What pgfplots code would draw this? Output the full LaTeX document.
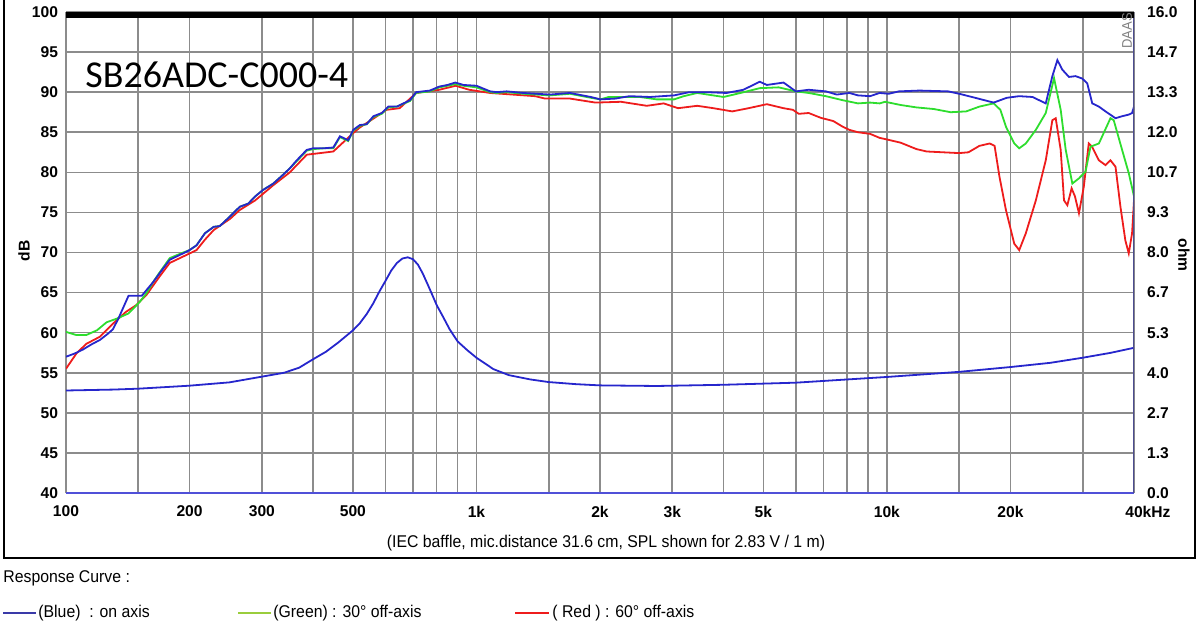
\documentclass[border=0pt]{standalone}
\usepackage{fontspec}
\setmainfont{Liberation Sans}
\newfontfamily\narrowfont[FakeStretch=0.93]{Liberation Sans}
\newfontfamily\titlefont{Carlito}
\usepackage{pgfplots}
\pgfplotsset{compat=1.18}
\definecolor{cblue}{HTML}{2626CC}
\definecolor{cgreen}{HTML}{2EDD2E}
\definecolor{cred}{HTML}{EE1C1C}
\definecolor{lgreen}{HTML}{9ACD3C}
\definecolor{lblue}{HTML}{3A3AA8}
\definecolor{gridc}{HTML}{8C8C8C}
\definecolor{rspine}{HTML}{4C4C90}
\definecolor{bspine}{HTML}{5050D8}

\pgfplotstableread{
f db
100 57.0
105 57.4
110 57.9
115 58.5
121 59.1
126 59.8
130 60.4
134 61.7
142 64.6
148 64.6
153 64.6
157 65.3
163 66.3
169 67.4
179 69.1
193 69.9
200 70.3
208 70.9
218 72.4
229 73.2
237 73.3
251 74.5
265 75.7
278 76.1
289 77.0
302 77.8
320 78.6
338 79.7
351 80.5
365 81.5
386 82.8
400 83.0
425 83.0
448 83.1
465 84.5
487 84.0
501 85.3
520 85.9
540 86.0
561 87.0
588 87.4
610 88.2
640 88.2
689 89.0
713 90.0
770 90.2
812 90.7
850 90.9
888 91.2
930 90.9
1000 90.8
1080 90.1
1120 90.0
1185 90.1
1300 89.9
1510 89.7
1690 89.9
1900 89.4
2005 89.1
2180 89.2
2360 89.5
2650 89.4
3030 89.6
3300 90.0
3630 90.0
4070 89.9
4470 90.3
4900 91.3
5100 90.9
5600 91.2
6000 90.1
6450 90.3
7100 90.1
7550 89.7
8100 89.9
8500 89.6
9100 89.5
9600 89.9
10100 89.8
10700 90.1
12000 90.2
14100 90.1
15000 89.8
16400 89.3
18200 88.7
19600 89.3
21000 89.5
22630 89.4
24380 88.6
25300 92.0
26020 94.0
26760 92.8
27770 91.9
28820 92.0
29910 91.7
30770 91.1
31650 88.6
32850 88.2
34090 87.6
36060 86.75
37420 87.0
38840 87.2
39570 87.4
40000 88.2
}\onaxis

\pgfplotstableread{
f db
100 60.1
106 59.7
112 59.7
119 60.3
125.6 61.3
133 61.75
142 62.4
151 63.8
157 64.9
163 66.3
169 67.5
179 69.3
193 70.0
200 70.3
208 70.9
218 72.4
229 73.2
237 73.3
251 74.5
265 75.7
278 76.1
289 77.0
302 77.8
320 78.6
338 79.7
351 80.5
365 81.4
386 82.7
400 82.9
425 83.0
448 83.0
465 84.4
487 83.9
501 85.2
520 85.8
540 86.0
561 86.9
588 87.3
610 88.1
640 88.2
689 88.9
713 89.9
770 90.1
812 90.6
850 90.8
888 91.0
930 90.8
1000 90.6
1080 90.0
1120 89.9
1185 90.0
1300 89.8
1510 89.6
1690 89.8
1900 89.3
2005 89.1
2100 89.4
2500 89.4
2750 89.1
3030 89.1
3200 89.5
3450 89.9
4000 89.4
4400 89.9
4900 90.5
5450 90.6
6000 90.1
6450 89.9
7100 89.5
7800 89.0
8500 88.6
9100 88.7
9600 88.6
9900 88.8
10800 88.4
11800 88.1
13000 87.9
14300 87.5
15600 87.6
16800 88.2
18200 88.6
18900 87.8
19500 85.7
20430 83.6
21010 83.0
21800 83.6
23060 85.3
24380 87.4
25540 91.75
26510 87.8
27270 82.8
28300 78.6
29370 79.25
30480 80.1
31340 83.2
32850 83.6
35050 86.75
35700 86.5
37420 82.8
38840 79.9
40000 77.0
}\offthirty

\pgfplotstableread{
f db
100 55.5
106 57.4
112 58.6
121 59.5
130 61.1
140 62.6
148 63.4
157 64.7
169 67.0
179 68.7
193 69.5
208 70.3
218 71.6
229 72.8
251 74.2
265 75.3
289 76.5
320 78.4
351 80.0
386 82.2
448 82.6
501 84.9
520 85.6
561 86.7
604 87.8
650 88.0
713 89.9
812 90.3
890 90.8
960 90.3
1080 89.9
1390 89.5
1470 89.2
1690 89.2
1950 88.7
2250 88.8
2600 88.3
2860 88.6
3100 88.0
3450 88.3
3780 88.0
4200 87.6
4600 88.0
5100 88.5
5600 88.0
5900 87.8
6100 87.3
6450 87.4
6900 86.8
7400 86.4
7800 85.7
8100 85.3
8500 85.0
9100 84.8
9600 84.3
10000 84.1
10800 83.7
11800 82.9
12500 82.6
13700 82.5
15000 82.4
15800 82.5
16800 83.3
17800 83.6
18300 83.3
18800 79.5
19500 75.3
20430 71.1
21010 70.3
21800 72.4
23060 76.5
24380 81.5
25300 86.5
25780 86.75
26510 82.8
27010 76.5
27520 75.9
28190 78.0
28720 77.0
29370 74.9
30180 78.2
31030 83.6
31600 83.2
32850 81.5
34090 80.9
35050 81.5
36060 80.7
37070 75.7
38110 71.5
38840 69.9
39570 72.4
40000 76.5
}\offsixty

\pgfplotstableread{
f z
100 3.41
130 3.44
150 3.47
200 3.57
250 3.68
300 3.87
340 4.00
370 4.17
400 4.45
430 4.70
460 5.00
500 5.41
520 5.65
540 5.95
560 6.30
580 6.70
600 7.05
620 7.40
640 7.65
660 7.80
680 7.84
700 7.78
720 7.60
740 7.30
760 6.95
780 6.60
800 6.25
830 5.85
860 5.45
900 5.04
950 4.75
1000 4.50
1100 4.12
1200 3.92
1350 3.78
1500 3.69
1750 3.62
2000 3.58
2750 3.56
4000 3.60
6000 3.67
10000 3.86
15000 4.03
20000 4.19
25000 4.33
30000 4.50
35000 4.66
40000 4.83
}\imped

\begin{document}
\begin{tikzpicture}
\useasboundingbox (0,0) rectangle (600pt,311.5pt);
% outer frame
\draw[line width=1pt,black] (1.8pt,311.5pt) -- (1.8pt,32.5pt) -- (597.5pt,32.5pt) -- (597.5pt,311.5pt);

\begin{axis}[
  at={(33pt,65pt)}, anchor=south west,
  width=534pt, height=240.5pt, scale only axis,
  xmode=log, xmin=100, xmax=40000, ymin=40, ymax=100,
  xtick={100,200,300,500,1000,2000,3000,5000,10000,20000,40000},
  xticklabels={100,200,300,500,1k,2k,3k,5k,10k,20k,40\rlap{kHz}},
  minor xtick={150,400,600,700,800,900,1500,4000,6000,7000,8000,9000,15000,30000},
  ytick={40,45,...,100},
  xmajorgrids, xminorgrids, ymajorgrids,
  major grid style={gridc,line width=0.8pt},
  minor grid style={gridc,line width=0.8pt},
  major tick length=0pt, minor tick length=0pt,
  axis line style={draw=none},
  /pgf/number format/assume math mode=true,
  tick label style={font=\fontsize{7.8}{9}\selectfont\bfseries},
  xticklabel style={yshift=-3pt},
  yticklabel style={xshift=-0.5pt},
  every axis plot/.append style={line width=0.9pt, mark=none},
]
\draw[gridc,line width=0.8pt] (rel axis cs:0,0) -- (rel axis cs:0,1);
\addplot[cred] table[x=f,y=db] {\offsixty};
\addplot[cgreen] table[x=f,y=db] {\offthirty};
\addplot[cblue] table[x=f,y=db] {\onaxis};
\end{axis}

\begin{axis}[
  at={(33pt,65pt)}, anchor=south west,
  width=534pt, height=240.5pt, scale only axis,
  xmode=log, xmin=100, xmax=40000, ymin=0, ymax=16,
  hide x axis, axis y line*=right,
  axis line style={draw=none},
  ytick={0,1.33333,2.66667,4,5.33333,6.66667,8,9.33333,10.66667,12,13.33333,14.66667,16},
  yticklabels={0.0,1.3,2.7,4.0,5.3,6.7,8.0,9.3,10.7,12.0,13.3,14.7,16.0},
  major tick length=0pt,
  tick label style={font=\fontsize{7.8}{9}\selectfont\bfseries},
  yticklabel style={xshift=3pt},
  every axis plot/.append style={line width=0.9pt, mark=none},
]
\addplot[cblue] table[x=f,y=z] {\imped};
\draw[bspine,line width=0.6pt] (rel axis cs:0,0) -- (rel axis cs:1,0);
\draw[rspine,line width=1pt] (rel axis cs:1,0) -- (rel axis cs:1,1);
\fill[black] (rel axis cs:0,1) rectangle ([yshift=-2.8pt]rel axis cs:1,1);
\end{axis}

% labels
\node[rotate=90,font=\fontsize{7.8}{9}\selectfont\bfseries] at (12pt,186pt) {dB};
\node[rotate=-90,font=\fontsize{7.8}{9}\selectfont\bfseries] at (592pt,184pt) {ohm};
\node[rotate=90,font=\narrowfont\fontsize{7}{8}\selectfont,text=gray] at (563.5pt,296pt) {DAAS};
\node[anchor=west,font=\titlefont\fontsize{19}{21}\selectfont,inner sep=0pt] at (42.5pt,274pt) {SB26ADC-C000-4};
\node[font=\narrowfont\fontsize{8.5}{10}\selectfont] at (303pt,40pt) {(IEC baffle, mic.distance 31.6 cm, SPL shown for 2.83 V / 1 m)};
\node[anchor=west,font=\narrowfont\fontsize{8.5}{10}\selectfont,inner sep=0pt] at (1.5pt,22.5pt) {Response Curve :};
% legend row
\draw[lblue,line width=0.8pt] (1.5pt,5pt) -- (18pt,5pt);
\node[anchor=west,font=\narrowfont\fontsize{8.5}{10}\selectfont,inner sep=0pt] at (19pt,5pt) {(Blue)\ \ : on axis};
\draw[lgreen,line width=0.8pt] (119pt,5pt) -- (135.5pt,5pt);
\node[anchor=west,font=\narrowfont\fontsize{8.5}{10}\selectfont,inner sep=0pt] at (136.5pt,5pt) {(Green) : 30° off-axis};
\draw[cred,line width=0.8pt] (257.5pt,5pt) -- (274.5pt,5pt);
\node[anchor=west,font=\narrowfont\fontsize{8.5}{10}\selectfont,inner sep=0pt] at (276pt,5pt) {( Red ) : 60° off-axis};
\end{tikzpicture}
\end{document}
